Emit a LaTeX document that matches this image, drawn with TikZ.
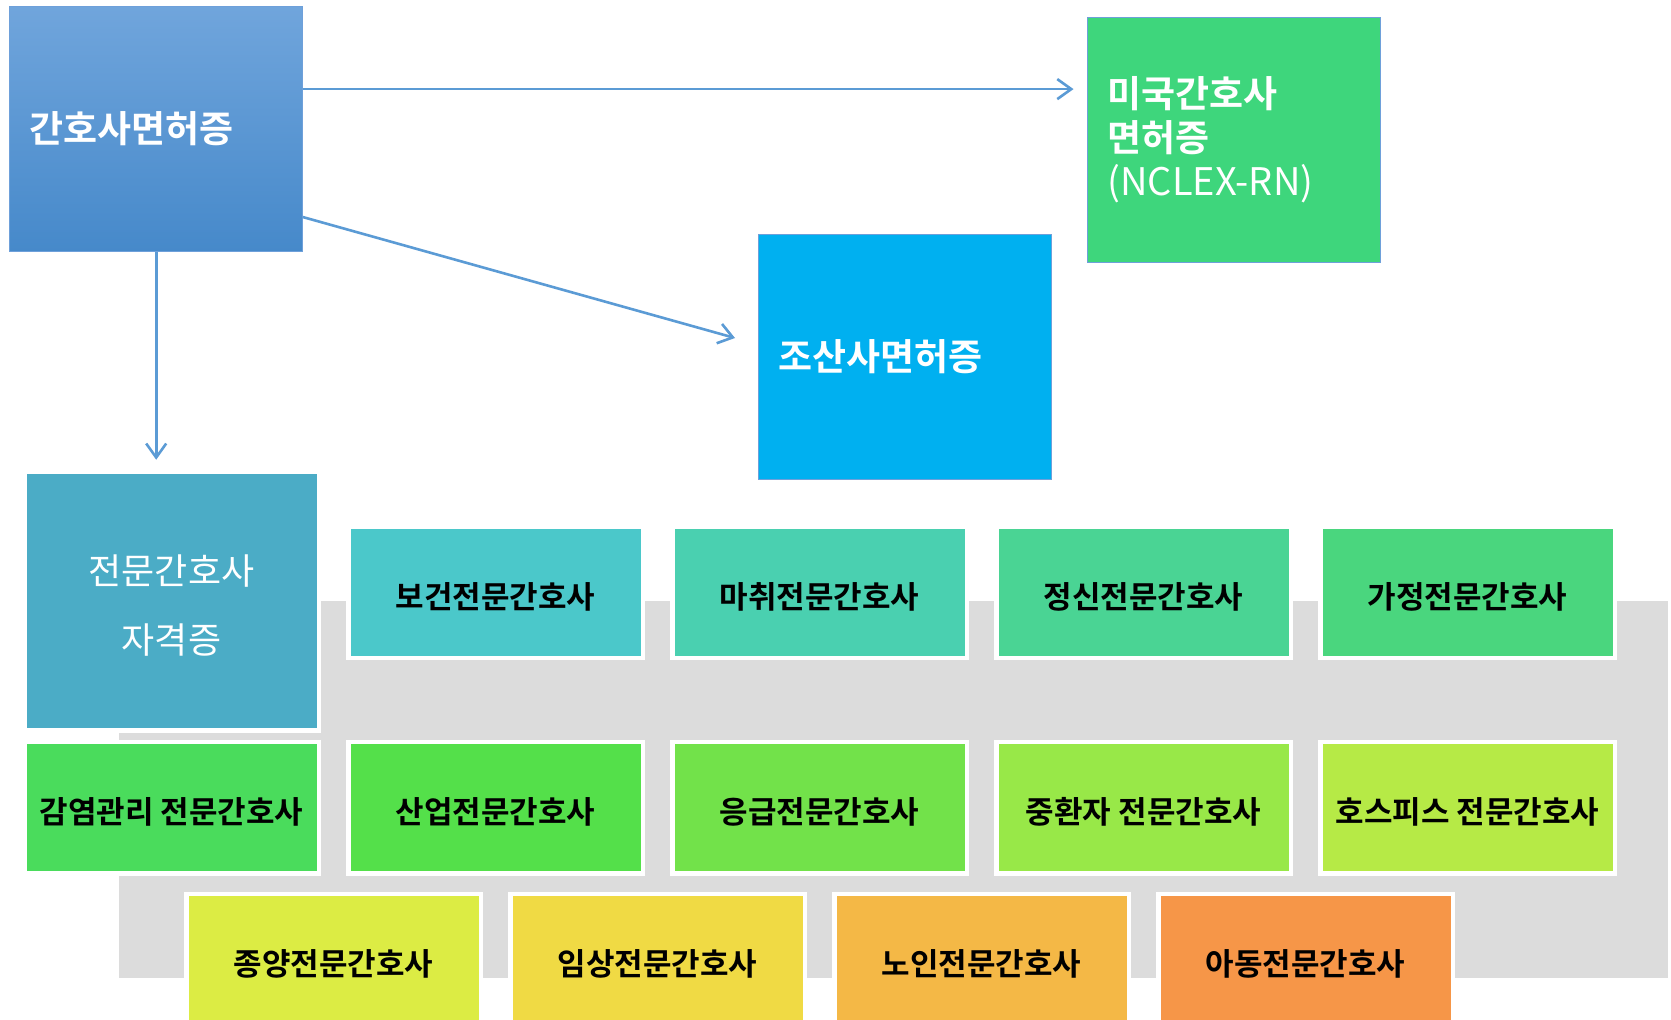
\documentclass[tikz,border=0pt]{standalone}
\usepackage{fontspec}
\newfontfamily\kr{Noto Sans CJK KR}[BoldFont={Noto Sans CJK KR Bold}]
\usetikzlibrary{arrows.meta}
\definecolor{arrowblue}{RGB}{91,155,213}
\definecolor{topedge}{RGB}{110,160,218}
\definecolor{gtop}{RGB}{112,165,220}
\definecolor{gbot}{RGB}{70,137,202}
\definecolor{nclex}{RGB}{62,214,124}
\definecolor{midwife}{RGB}{0,176,240}
\definecolor{certbox}{RGB}{75,172,198}
\definecolor{graybg}{RGB}{220,220,220}
\definecolor{cA}{RGB}{75,200,202}
\definecolor{cB}{RGB}{74,208,176}
\definecolor{cC}{RGB}{74,212,148}
\definecolor{cD}{RGB}{74,214,126}
\definecolor{cE}{RGB}{74,220,92}
\definecolor{cF}{RGB}{84,224,74}
\definecolor{cG}{RGB}{114,226,74}
\definecolor{cH}{RGB}{152,232,72}
\definecolor{cI}{RGB}{182,234,70}
\definecolor{cJ}{RGB}{220,236,68}
\definecolor{cK}{RGB}{240,218,68}
\definecolor{cL}{RGB}{244,184,70}
\definecolor{cM}{RGB}{246,150,72}
\newcommand{\lowered}[1]{\raisebox{-4.5pt}[\height][\depth]{#1}}
\tikzset{
  topbox/.style={draw=topedge, line width=1pt, outer sep=0pt, minimum width=293pt, minimum height=245pt,
    inner xsep=20pt, text width=253pt, align=left, text=white,
    font=\kr\bfseries\fontsize{37}{44}\selectfont},
  sbox/.style={draw=white, line width=4.5pt, outer sep=0pt, inner sep=0pt,
    minimum width=294.5pt, minimum height=131.5pt,
    font=\kr\bfseries\fontsize{31}{33}\selectfont, text=black},
  arr/.style={draw=arrowblue, line width=2.6pt, -{Straight Barb[length=14pt,width=20pt]}}
}
\begin{document}
\begin{tikzpicture}[x=1pt,y=-1pt]
\useasboundingbox (0,0) rectangle (1671,1020);
\clip (0,0) rectangle (1671,1020);
\fill[white] (0,0) rectangle (1671,1020);
% gray background band
\fill[graybg] (119,601) rectangle (1668,978);

% top boxes
\node[topbox, top color=gtop, bottom color=gbot] (A) at (156.2,129) {간호사면허증};
\node[topbox, fill=nclex] (N) at (1234,139.5) {미국간호사\\면허증\\{\mdseries\fontsize{38}{44}\selectfont (NCLEX-RN)}};
\node[topbox, fill=midwife] (M) at (904.5,357) {조산사면허증};

% certificate box
\node[sbox, fill=certbox, minimum height=258.5pt, text=white, align=center,
  font=\kr\fontsize{36}{69}\selectfont] (B) at (171.5,601) {\lowered{전문간호사}\\\lowered{자격증}};

% row 1
\node[sbox, fill=cA] (r1a) at (495.5,592) {\lowered{보건전문간호사}};
\node[sbox, fill=cB] (r1b) at (819.5,592) {\lowered{마취전문간호사}};
\node[sbox, fill=cC] (r1c) at (1143.5,592) {\lowered{정신전문간호사}};
\node[sbox, fill=cD] (r1d) at (1467.5,592) {\lowered{가정전문간호사}};
% row 2
\node[sbox, fill=cE] (r2a) at (171.5,807.5) {\lowered{감염관리 전문간호사}};
\node[sbox, fill=cF] (r2b) at (495.5,807.5) {\lowered{산업전문간호사}};
\node[sbox, fill=cG] (r2c) at (819.5,807.5) {\lowered{응급전문간호사}};
\node[sbox, fill=cH] (r2d) at (1143.5,807.5) {\lowered{중환자 전문간호사}};
\node[sbox, fill=cI] (r2e) at (1467.5,807.5) {\lowered{호스피스 전문간호사}};
% row 3
\node[sbox, fill=cJ] (r3a) at (333.5,959.5) {\lowered{종양전문간호사}};
\node[sbox, fill=cK] (r3b) at (657.5,959.5) {\lowered{임상전문간호사}};
\node[sbox, fill=cL] (r3c) at (981.5,959.5) {\lowered{노인전문간호사}};
\node[sbox, fill=cM] (r3d) at (1305.5,959.5) {\lowered{아동전문간호사}};

% connectors
\coordinate (s1) at ([yshift=-82.6pt]A.north east);
\coordinate (s2) at ([yshift=34.5pt]A.south east);
\coordinate (t2) at ([xshift=-23pt,yshift=19pt]M.west);
\draw[arr, shorten >=14pt] (s1) -- (N.west |- s1);
\draw[arr] (s2) -- (t2);
\draw[arr, shorten >=12pt] (A.south) -- (B.north -| A.south);
\end{tikzpicture}
\end{document}
